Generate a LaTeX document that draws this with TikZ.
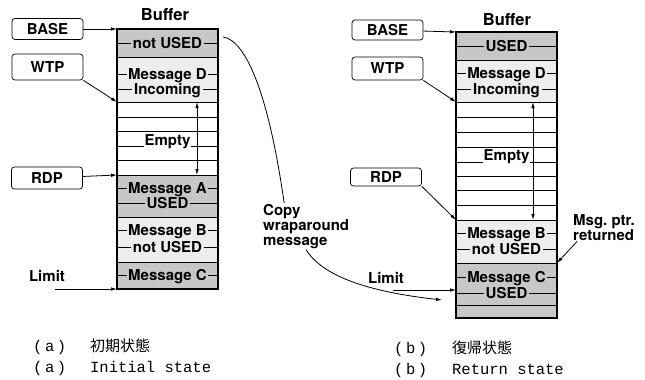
\documentclass[tikz,border=0pt]{standalone}
\usepackage{fontspec}
\setsansfont{TeX Gyre Heros}
\newfontfamily\cjkfont{Noto Sans CJK JP}
\newfontfamily\capfont{Liberation Mono}
\usetikzlibrary{arrows.meta}

\begin{document}
\begin{tikzpicture}[x=1pt, y=-1pt,
		every node/.style = {font=\fontsize{15}{15}\selectfont\sffamily\bfseries},
		ptrbox/.style = {draw, rounded corners=3pt, line width=.7pt, minimum width=71pt, inner sep=0pt},
		row/.style = {draw, line width=.9pt, minimum width=101pt, inner sep=0pt, outer sep=0pt, anchor=north west},
		usedrow/.style = {row, fill=black!22},
		freerow/.style = {row, fill=black!7},
		emptyrow/.style = {row, fill=white},
		outline/.style = {draw, line width=1.3pt, minimum width=101pt, inner sep=0pt, outer sep=0pt, anchor=north west},
		tag/.style = {inner sep=1.5pt, text height=11pt, text depth=0pt},
		tagline/.style = {line width=.8pt},
		title/.style = {font=\fontsize{16.5}{16.5}\selectfont\sffamily\bfseries},
		ptr/.style = {line width=.8pt, -{Latex[length=6pt,width=3.5pt]}},
		span/.style = {line width=.8pt, {Latex[length=6pt,width=3.5pt]}-{Latex[length=6pt,width=3.5pt]}},
		caption/.style = {font=\fontsize{15.5}{16}\selectfont\capfont, inner sep=0pt, anchor=base west}]
	\useasboundingbox (0,0) rectangle (645,380);

	% (a) initial state
	\node[title] (ltitle) at (165,15) {Buffer};
	\node[usedrow, minimum height=28pt] (lnotused) at (117,29) {};
	\node[freerow, minimum height=45pt] (lmsgd) at (117,57) {};
	\node[emptyrow, minimum height=73pt] (lempty) at (117,102) {};
	\node[usedrow, minimum height=42pt] (lmsga) at (117,175) {};
	\node[freerow, minimum height=45pt] (lmsgb) at (117,217) {};
	\node[usedrow, minimum height=27pt] (lmsgc) at (117,262) {};
	\foreach \y in {117,131,146,160}
		\draw[line width=.9pt] (lempty.west |- 0,\y) -- (lempty.east |- 0,\y);
	\node[outline, minimum height=260pt] (lbuf) at (117,29) {};

	\node[tag] (lt1) at (167.5,43) {not USED};
	\node[tag] (lt2) at (167.5,74) {Message D};
	\node[tag] (lt3) at (167.5,89) {Incoming};
	\node[tag] (lt4) at (167.5,188) {Message A};
	\node[tag] (lt5) at (167.5,203) {USED};
	\node[tag] (lt6) at (167.5,230) {Message B};
	\node[tag] (lt7) at (167.5,247) {not USED};
	\node[tag] (lt8) at (167.5,275) {Message C};
	\foreach \t in {lt1,lt2,lt3,lt4,lt5,lt6,lt7,lt8}
		\draw[tagline] (lbuf.west |- \t) -- (\t.west) (\t.east) -- (lbuf.east |- \t);
	\node[fill=white, inner sep=1pt, anchor=base] (lfree) at (167.5,145) {Empty};
	\draw[span] ([xshift=29.5pt]lempty.north) -- ([xshift=29.5pt]lempty.south);

	\node[ptrbox, minimum height=21pt] (lbase) at (47.5,29) {BASE};
	\node[ptrbox, minimum height=26pt] (lwtp) at (47.5,67) {WTP};
	\node[ptrbox, minimum height=22pt] (lrdp) at (47,178) {RDP};
	\node (llimit) at (47,276) {Limit};
	\coordinate (llimit-tail) at (55,289);
	\draw[ptr] (lbase) -- (lnotused.north west);
	\draw[ptr] (lwtp.south east) -- (lmsgd.south west);
	\draw[ptr] (lrdp) -- (lmsga.north west);
	\draw[ptr] (llimit-tail) -- (lbuf.west |- llimit-tail);

	% copy of the wrapped message
	\node[align=left, anchor=north west, inner sep=1pt] (copy) at (262,203) {Copy\\wraparound\\message};
	\coordinate (wrap-to) at (442,300);
	\draw[line width=.8pt] ([xshift=5pt,yshift=-8pt]lnotused.north east)
		.. controls (245,40) and (268,90) .. ([xshift=-22pt]copy.north);
	\draw[ptr] (copy.south) .. controls (325,280) and (380,293) .. (wrap-to);

	% (b) return state
	\node[title] (rtitle) at (507,20) {Buffer};
	\node[usedrow, minimum height=28pt] (rused) at (456,32) {};
	\node[freerow, minimum height=42pt] (rmsgd) at (456,60) {};
	\node[emptyrow, minimum height=118pt] (rempty) at (456,102) {};
	\node[freerow, minimum height=43pt] (rmsgb) at (456,220) {};
	\node[usedrow, minimum height=42pt] (rmsgc) at (456,263) {};
	\node[usedrow, minimum height=13pt] (rtail) at (456,305) {};
	\foreach \y in {117,132,147,162,176,190,205}
		\draw[line width=.9pt] (rempty.west |- 0,\y) -- (rempty.east |- 0,\y);
	\node[outline, minimum height=286pt] (rbuf) at (456,32) {};

	\node[tag] (rt1) at (506.5,46) {USED};
	\node[tag] (rt2) at (506.5,73) {Message D};
	\node[tag] (rt3) at (506.5,89) {Incoming};
	\node[tag] (rt4) at (506.5,233) {Message B};
	\node[tag] (rt5) at (506.5,249) {not USED};
	\node[tag] (rt6) at (506.5,277) {Message C};
	\node[tag] (rt7) at (506.5,293) {USED};
	\foreach \t in {rt1,rt2,rt3,rt4,rt5,rt6,rt7}
		\draw[tagline] (rbuf.west |- \t) -- (\t.west) (\t.east) -- (rbuf.east |- \t);
	\node[fill=white, inner sep=1pt, anchor=base] (rfree) at (506.5,160) {Empty};
	\draw[span] ([xshift=26.5pt]rempty.north) -- ([xshift=26.5pt]rempty.south);

	\node[ptrbox, minimum height=20pt] (rbase) at (387.5,30) {BASE};
	\node[ptrbox, minimum height=23pt] (rwtp) at (387.5,68.5) {WTP};
	\node[ptrbox, minimum height=18pt] (rrdp) at (386,177) {RDP};
	\node (rlimit) at (386,278) {Limit};
	\coordinate (rlimit-tail) at (393,290);
	\draw[ptr] (rbase) -- (rused.north west);
	\draw[ptr] (rwtp.south east) -- (rmsgd.south west);
	\draw[ptr] (rrdp.south east) -- (rmsgb.north west);
	\draw[ptr] (rlimit-tail) -- (rbuf.west |- rlimit-tail);

	\node[align=left, anchor=north west, inner sep=1pt] (msgptr) at (572,213) {Msg.\ ptr.\\returned};
	\draw[ptr] ([xshift=5pt]msgptr.south west) -- (rmsgc.north east);

	% captions
	\node[caption] (capa1) at (33,351) {\makebox[57pt][l]{(\,a\,)}{\cjkfont\fontsize{15}{15}\selectfont 初期状態}};
	\node[caption] (capa2) at (33,372) {\makebox[57pt][l]{(\,a\,)}Initial state};
	\node[caption] (capb1) at (394,353) {\makebox[58pt][l]{(\,b\,)}{\cjkfont\fontsize{15}{15}\selectfont 復帰状態}};
	\node[caption] (capb2) at (394,374) {\makebox[58pt][l]{(\,b\,)}Return state};
\end{tikzpicture}
\end{document}
